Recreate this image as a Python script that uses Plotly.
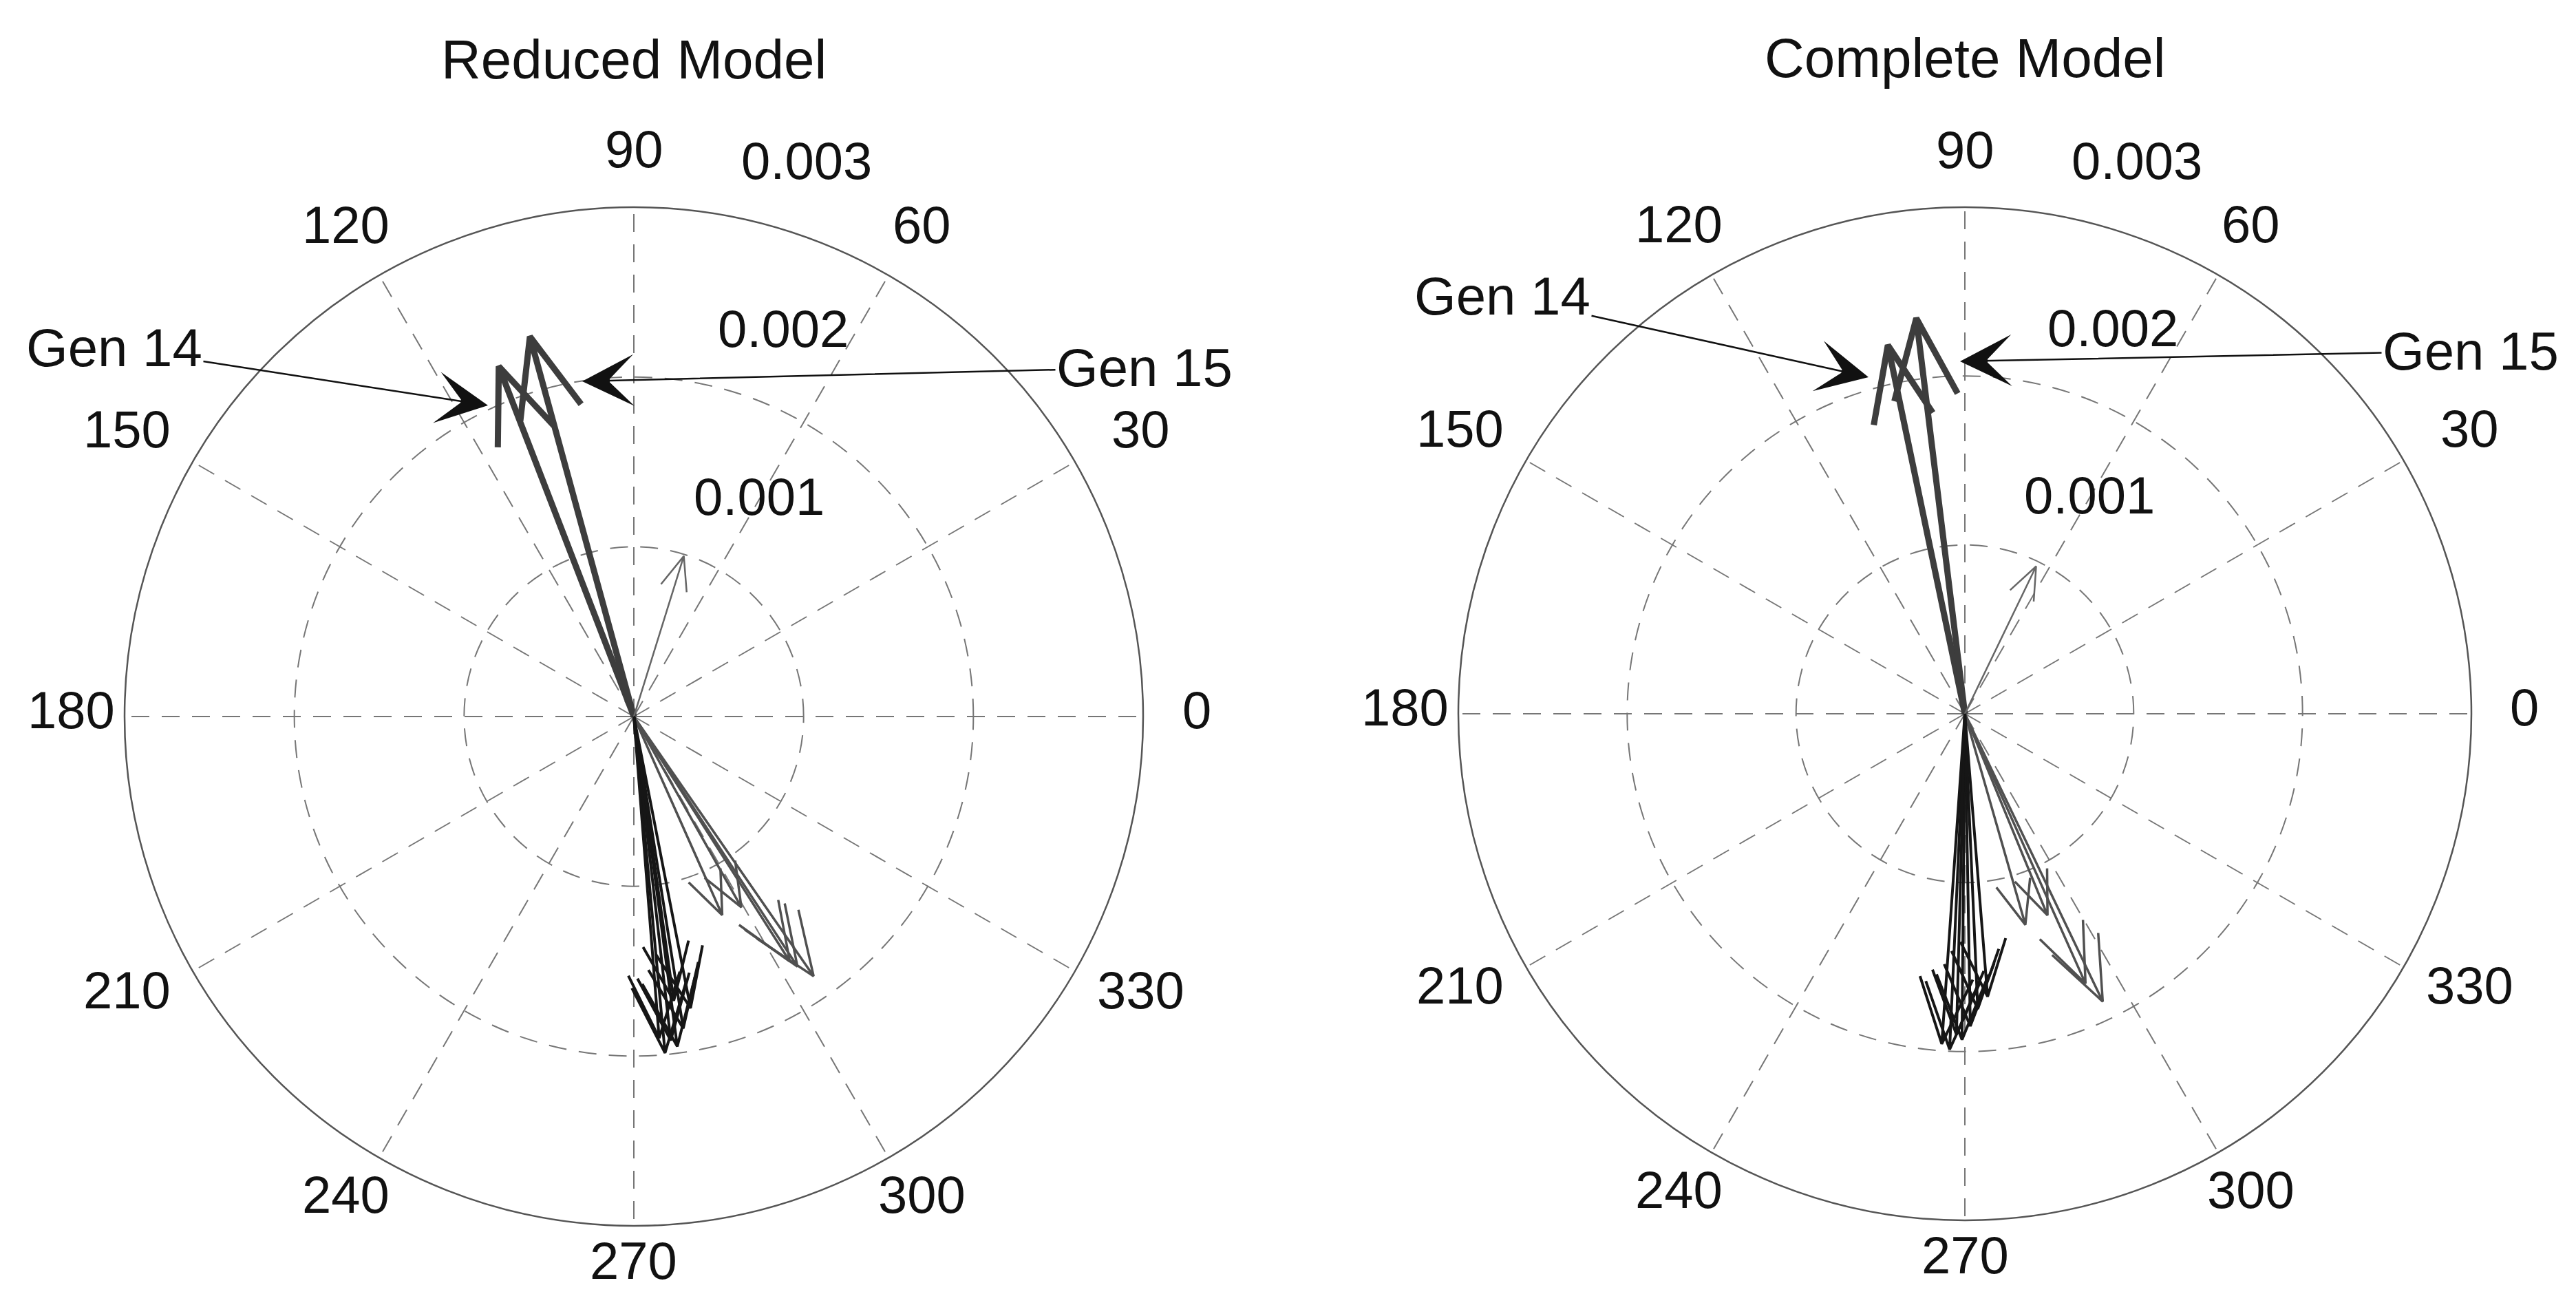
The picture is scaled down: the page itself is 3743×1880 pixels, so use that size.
import numpy as np
import plotly.graph_objects as go

W, H = 3743, 1880

# ---------------- data ----------------
angle_ticks = [0, 30, 60, 90, 120, 150, 180, 210, 240, 270, 300, 330]
radial_ticks = [0.001, 0.002, 0.003]
radial_tick_text = ["0.001", "0.002", "0.003"]
R_MAX = 0.003

# Reduced model: mode-shape vectors (magnitude, angle in degrees)
reduced_mag = [0.00221, 0.00232, 0.00099,
               0.00128, 0.00129, 0.00171, 0.00186, 0.00176,
               0.00199, 0.00196, 0.00192, 0.00186, 0.00169, 0.00175, 0.00190]
reduced_ang = [111.1, 105.3, 72.7,
               294.0, 299.4, 302.5, 304.7, 303.2,
               275.3, 277.5, 276.5, 279.0, 278.0, 281.0, 274.5]
reduced_grp = ["big", "big", "small",
               "mid", "mid", "mid", "mid", "mid",
               "low", "low", "low", "low", "low", "low", "low"]

# Complete model
complete_mag = [0.00223, 0.00236, 0.00097,
                0.00130, 0.00129, 0.00175, 0.00189,
                0.00199, 0.00193, 0.00190, 0.00185, 0.00175, 0.00168, 0.00196]
complete_ang = [101.8, 97.0, 64.2,
                286.0, 292.3, 294.1, 295.6,
                267.4, 269.5, 268.5, 271.0, 272.5, 274.6, 266.0]
complete_grp = ["big", "big", "small",
                "mid", "mid", "mid", "mid",
                "low", "low", "low", "low", "low", "low", "low"]

# ---------------- styles ----------------
FONT = "Liberation Sans, Arial, Helvetica, sans-serif"
FS = 76
style = {
    "big": dict(color="#3d3d3d", width=9),
    "mid": dict(color="#505050", width=3.5),
    "low": dict(color="#161616", width=4),
    "small": dict(color="#666666", width=2.5),
}

HEAD_R = float(np.hypot(0.8, 0.08))
HEAD_A = float(np.degrees(np.arctan2(0.08, 0.8)))


def compass_traces(mags, angs, grps, subplot):
    traces = []
    for m, a, g in zip(mags, angs, grps):
        r = [0, m, HEAD_R * m, m, HEAD_R * m]
        th = [a, a, a + HEAD_A, a, a - HEAD_A]
        traces.append(go.Scatterpolar(r=r, theta=th, mode="lines",
                                      line=dict(color=style[g]["color"], width=style[g]["width"]),
                                      subplot=subplot, showlegend=False, hoverinfo="skip"))
    return traces


fig = go.Figure()
for t in compass_traces(reduced_mag, reduced_ang, reduced_grp, "polar"):
    fig.add_trace(t)
for t in compass_traces(complete_mag, complete_ang, complete_grp, "polar2"):
    fig.add_trace(t)

GRID = "#767676"
DASH = "26px,18px"

# plot geometry (pixels): centre and radius of each polar area
panels = [
    dict(name="polar", cx=913, cy=1033, R=740, title="Reduced Model", ty=88),
    dict(name="polar2", cx=2847, cy=1029, R=736, title="Complete Model", ty=86),
]


# radial placement factor of the spoke labels (x, y), MATLAB-like
def spoke_factor(a):
    if a % 180 == 0:
        return 1.105, 1.1
    if a == 270:
        return 1.1, 1.082
    if a % 90 == 0:
        return 1.1, 1.1
    if a % 60 == 0:
        return 1.13, 1.1
    return 1.15, 1.1


def polar_layout(p):
    x0, x1 = p["cx"] - p["R"], p["cx"] + p["R"]
    yt, yb = p["cy"] - p["R"], p["cy"] + p["R"]
    return dict(
        domain=dict(x=[x0 / W, x1 / W], y=[1 - yb / H, 1 - yt / H]),
        bgcolor="white",
        angularaxis=dict(rotation=0, direction="counterclockwise",
                         tickmode="array", tickvals=angle_ticks,
                         showticklabels=False, ticks="",
                         showline=True, linecolor="#555555", linewidth=2.5,
                         showgrid=True, gridcolor=GRID, gridwidth=2.2, griddash=DASH),
        radialaxis=dict(range=[0, R_MAX], tickvals=radial_ticks[:2],
                        showticklabels=False, ticks="", showline=False,
                        showgrid=True, gridcolor=GRID, gridwidth=2.2, griddash=DASH),
    )


fig.update_layout(
    width=W, height=H,
    margin=dict(l=0, r=0, t=0, b=0),
    paper_bgcolor="white",
    showlegend=False,
    polar=polar_layout(panels[0]),
    polar2=polar_layout(panels[1]),
)


def px(x):
    return x / W


def py(y):
    return 1 - y / H


YFIX = -10  # text line boxes sit slightly low; lift them

anns = []
for p in panels:
    cx, cy, R = p["cx"], p["cy"], p["R"]
    anns.append(dict(x=px(cx), y=py(p["ty"] + YFIX), text=p["title"], showarrow=False,
                     font=dict(family=FONT, size=80, color="#111")))
    for a in angle_ticks:
        t = np.radians(a)
        fx, fy = spoke_factor(a)
        anns.append(dict(x=px(cx + fx * R * np.cos(t)), y=py(cy - fy * R * np.sin(t) + YFIX),
                         text=str(a), showarrow=False,
                         font=dict(family=FONT, size=FS, color="#111")))
    for v, s in zip(radial_ticks, radial_tick_text):
        rho = v / R_MAX * R
        t = np.radians(82)
        anns.append(dict(x=px(cx + rho * np.cos(t) + 0.2 * R),
                         y=py(cy - rho * np.sin(t) - 0.088 * R + YFIX),
                         text=s, showarrow=False,
                         font=dict(family=FONT, size=FS, color="#111")))

# (label, text centre px, arrow tip px)
gen_labels = [
    ("Gen 14", (158, 497), (701, 581)),
    ("Gen 15", (1655, 526), (838, 546)),
    ("Gen 14", (2175, 422), (2707, 540)),
    ("Gen 15", (3582, 502), (2840, 517)),
]
for txt, (tx, ty), (hx, hy) in gen_labels:
    anns.append(dict(x=px(hx), y=py(hy), text=txt,
                     showarrow=True, ax=tx - hx, ay=ty - hy, axref="pixel", ayref="pixel",
                     arrowhead=3, arrowsize=5, arrowwidth=2.5, arrowcolor="#111",
                     standoff=0, startstandoff=0,
                     font=dict(family=FONT, size=78, color="#111")))
for a in anns:
    a["xref"] = "paper"
    a["yref"] = "paper"
    a["xanchor"] = "center"
    a["yanchor"] = "middle"
fig.update_layout(annotations=anns)

fig.write_html("out.html")
